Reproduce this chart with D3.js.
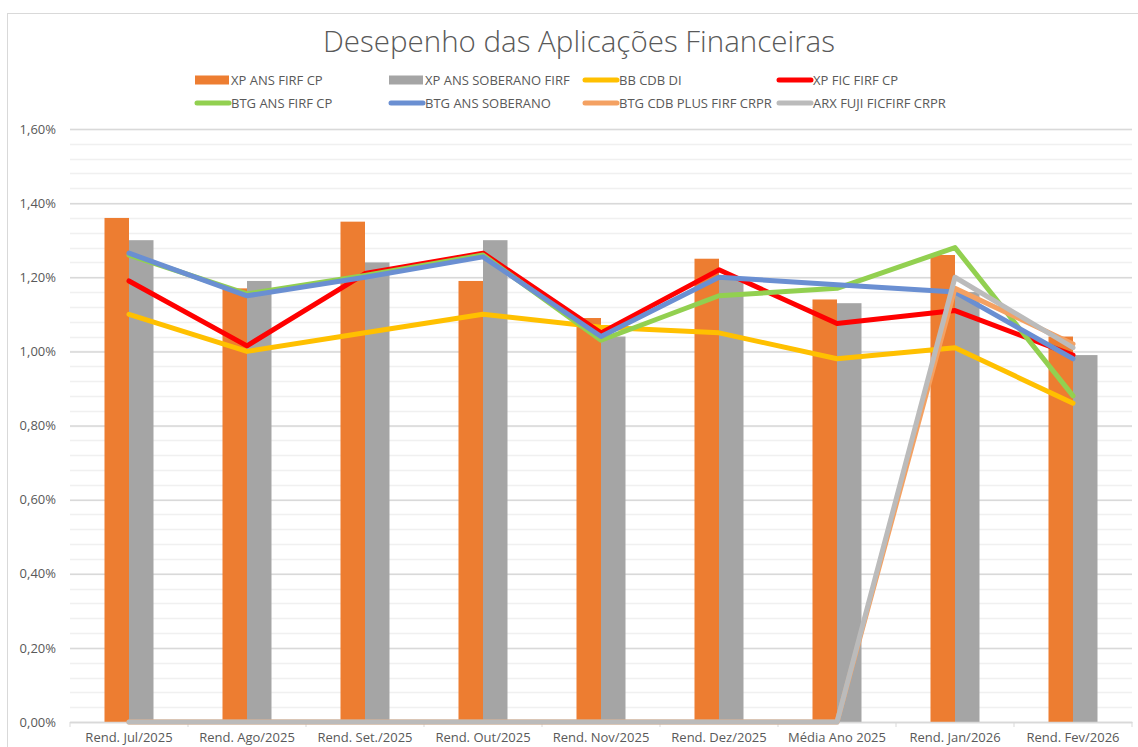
<!DOCTYPE html>
<html>
<head>
<meta charset="utf-8">
<script src="https://cdn.jsdelivr.net/npm/d3@7"></script>
<style>
  body { margin: 0; background: #fff; }
  text { font-family: "Open Sans", "DejaVu Sans", sans-serif; fill: #595959; }
</style>
</head>
<body>
<script>
const WIDTH = 1138;
const HEIGHT = 747;
const PLOT_LEFT = 70;
const PLOT_RIGHT = 1132;
const PLOT_TOP = 129;
const PLOT_BOTTOM = 722;

// data (values in %)
const categories = ['Rend. Jul/2025', 'Rend. Ago/2025', 'Rend. Set./2025', 'Rend. Out/2025',
                    'Rend. Nov/2025', 'Rend. Dez/2025', 'Média Ano 2025', 'Rend. Jan/2026', 'Rend. Fev/2026'];
const xpAnsFirf      = [1.36, 1.17, 1.35, 1.19, 1.09, 1.25, 1.14, 1.26, 1.04];
const xpAnsSoberano  = [1.30, 1.19, 1.24, 1.30, 1.04, 1.20, 1.13, 1.16, 0.99];
const bbCdbDi        = [1.10, 1.00, 1.05, 1.10, 1.065, 1.05, 0.98, 1.01, 0.86];
const xpFicFirf      = [1.19, 1.015, 1.21, 1.265, 1.05, 1.22, 1.075, 1.11, 0.99];
const btgAnsFirf     = [1.26, 1.155, 1.205, 1.26, 1.03, 1.15, 1.17, 1.28, 0.88];
const btgAnsSoberano = [1.265, 1.15, 1.20, 1.255, 1.04, 1.20, 1.18, 1.16, 0.98];
const btgCdbPlus     = [0, 0, 0, 0, 0, 0, 0, 1.17, 1.02];
const arxFuji        = [0, 0, 0, 0, 0, 0, 0, 1.20, 1.01];
const yTicks = [0, 0.2, 0.4, 0.6, 0.8, 1.0, 1.2, 1.4, 1.6];

var barSeries = [
    {name: 'XP ANS FIRF CP', values: xpAnsFirf, color: '#ED7D31'},
    {name: 'XP ANS SOBERANO FIRF', values: xpAnsSoberano, color: '#A5A5A5'}
];
var lineSeries = [
    {name: 'BB CDB DI', values: bbCdbDi, color: '#FFC000'},
    {name: 'XP FIC FIRF CP', values: xpFicFirf, color: '#FF0000'},
    {name: 'BTG ANS FIRF CP', values: btgAnsFirf, color: '#92D050'},
    {name: 'BTG ANS SOBERANO', values: btgAnsSoberano, color: '#6A8FD2'},
    {name: 'BTG CDB PLUS FIRF CRPR', values: btgCdbPlus, color: '#F4A162'},
    {name: 'ARX FUJI FICFIRF CRPR', values: arxFuji, color: '#BBBBBB'}
];

var svg = d3.select('body').append('svg')
    .attr('width', WIDTH)
    .attr('height', HEIGHT);

// chart frame
svg.append('rect')
    .attr('x', 7.5).attr('y', 13.5)
    .attr('width', WIDTH + 20).attr('height', HEIGHT + 20)
    .attr('fill', 'none')
    .attr('stroke', '#d9d9d9');

svg.append('text')
    .attr('x', 579).attr('y', 52)
    .attr('text-anchor', 'middle')
    .style('font-size', '29.5px')
    .style('font-weight', 300)
    .text('Desepenho das Aplicações Financeiras');

var xScale = d3.scaleBand()
    .domain(categories)
    .range([PLOT_LEFT, PLOT_RIGHT]);

var xCenter = function(c) { return xScale(c) + xScale.bandwidth() / 2; };

var yScale = d3.scaleLinear()
    .domain([0, 1.6])
    .range([PLOT_BOTTOM, PLOT_TOP]);

// minor grid every 0.04
var minor = d3.range(0, 1.6001, 0.04);
svg.append('g').selectAll('line').data(minor)
    .enter().append('line')
    .attr('x1', PLOT_LEFT).attr('x2', PLOT_RIGHT)
    .attr('y1', function(d) { return Math.round(yScale(d)) + 0.5; })
    .attr('y2', function(d) { return Math.round(yScale(d)) + 0.5; })
    .attr('stroke', '#f0f0f0')
    .attr('stroke-width', 1.5);

// major grid + labels
var yAxis = d3.axisLeft(yScale)
    .tickValues(yTicks)
    .tickSize(-(PLOT_RIGHT - PLOT_LEFT))
    .tickPadding(14)
    .tickFormat(function(d) { return d3.format('.2f')(d).replace('.', ',') + '%'; });

var gy = svg.append('g')
    .attr('transform', 'translate(' + PLOT_LEFT + ',0)')
    .call(yAxis);
gy.select('.domain').remove();
gy.selectAll('line').attr('stroke', '#d9d9d9').attr('stroke-width', 1.5);
gy.selectAll('text')
    .style('font-size', '13px')
    .style('font-family', '"Open Sans", sans-serif')
    .attr('fill', '#595959');

// bars
var nBars = barSeries.length;
var barW = 24.5;
barSeries.forEach(function(s, i) {
    svg.append('g').selectAll('rect').data(s.values)
        .enter().append('rect')
        .attr('x', function(d, j) { return xCenter(categories[j]) - barW * nBars / 2 + i * barW; })
        .attr('y', function(d) { return yScale(d); })
        .attr('width', barW)
        .attr('height', function(d) { return PLOT_BOTTOM - yScale(d); })
        .attr('fill', s.color);
});

// x axis
var xAxis = d3.axisBottom(xScale).tickSize(0).tickPadding(11);
var gx = svg.append('g')
    .attr('transform', 'translate(0,' + PLOT_BOTTOM + ')')
    .call(xAxis);
gx.select('.domain').attr('stroke', '#d9d9d9').attr('stroke-width', 1.5);
gx.selectAll('text')
    .style('font-size', '13px')
    .style('font-family', '"Open Sans", sans-serif')
    .attr('fill', '#595959');
gx.selectAll('.sep').data(categories.concat(['end']))
    .enter().append('line')
    .attr('class', 'sep')
    .attr('x1', function(d, i) { return PLOT_LEFT + i * xScale.step(); })
    .attr('x2', function(d, i) { return PLOT_LEFT + i * xScale.step(); })
    .attr('y1', 0).attr('y2', 5)
    .attr('stroke', '#d9d9d9');

// lines
var line = d3.line()
    .x(function(d, i) { return xCenter(categories[i]); })
    .y(function(d) { return yScale(d); });

lineSeries.forEach(function(s) {
    svg.append('path')
        .attr('d', line(s.values))
        .attr('fill', 'none')
        .attr('stroke', s.color)
        .attr('stroke-width', 5)
        .attr('stroke-linejoin', 'round')
        .attr('stroke-linecap', 'round');
});

// legend
var legendItems = barSeries.map(function(s) { return {name: s.name, color: s.color, type: 'bar'}; })
    .concat(lineSeries.map(function(s) { return {name: s.name, color: s.color, type: 'line'}; }));

var legend = svg.append('g');
legendItems.forEach(function(d, i) {
    var col = i % 4;
    var row = Math.floor(i / 4);
    var x = 195 + col * 194;
    var y = 80 + row * 23;
    if (d.type === 'bar') {
        legend.append('rect')
            .attr('x', x).attr('y', y - 4.5)
            .attr('width', 34).attr('height', 9)
            .attr('fill', d.color);
    } else {
        legend.append('line')
            .attr('x1', x + 2).attr('x2', x + 34)
            .attr('y1', y).attr('y2', y)
            .attr('stroke', d.color)
            .attr('stroke-width', 5)
            .attr('stroke-linecap', 'round');
    }
    legend.append('text')
        .attr('x', x + 36).attr('y', y + 4.5)
        .style('font-size', '13px')
        .text(d.name);
});
</script>
</body>
</html>
